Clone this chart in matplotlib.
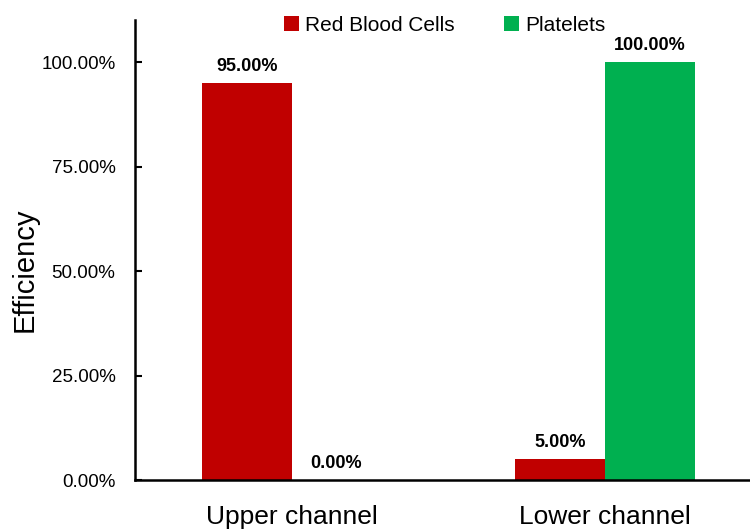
import numpy as np
import matplotlib.pyplot as plt
from matplotlib.ticker import PercentFormatter

plt.rcParams['font.family'] = ['Liberation Sans', 'DejaVu Sans']

# Data
channels = ['Upper channel', 'Lower channel']
rbc = [0.95, 0.05]
platelets = [0.00, 1.00]
series_names = ['Red Blood Cells', 'Platelets']
colors = ['#C00000', '#00B050']

fig = plt.figure(figsize=(7.5, 5.29), dpi=100)
ax = fig.add_axes([0.18, 0.0926, 0.835, 0.869])

x = np.arange(len(channels))
w = 0.287
b1 = ax.bar(x - w / 2, rbc, w, color=colors[0], label=series_names[0])
b2 = ax.bar(x + w / 2, platelets, w, color=colors[1], label=series_names[1])

for bars in (b1, b2):
    for rect in bars:
        h = rect.get_height()
        ax.annotate(f'{h * 100:.2f}%', (rect.get_x() + rect.get_width() / 2, h),
                    xytext=(0, 6), textcoords='offset points',
                    ha='center', va='bottom', fontsize=13, fontweight='bold')

ax.set_xlim(-0.5, 1.5)
ax.set_ylim(0, 1.1)
ax.set_yticks([0, 0.25, 0.5, 0.75, 1.0])
ax.yaxis.set_major_formatter(PercentFormatter(1.0, decimals=2))
ax.set_xticks(x)
ax.set_xticklabels(channels, fontsize=19)
ax.tick_params(axis='x', length=0, pad=18)
ax.tick_params(axis='y', direction='in', length=5, width=1.5, labelsize=13.5, pad=14)

ax.set_ylabel('Efficiency', fontsize=21, va='center')
ax.yaxis.set_label_coords(-0.176, 0.457)

for s in ['top', 'right']:
    ax.spines[s].set_visible(False)
for s in ['left', 'bottom']:
    ax.spines[s].set_linewidth(1.8)

fig.legend(loc='center', bbox_to_anchor=(0.593, 0.952), ncol=2, frameon=False,
           fontsize=15, handlelength=0.7, handleheight=0.7, handletextpad=0.3,
           columnspacing=2.4)

fig.savefig('out.png', dpi=100)
